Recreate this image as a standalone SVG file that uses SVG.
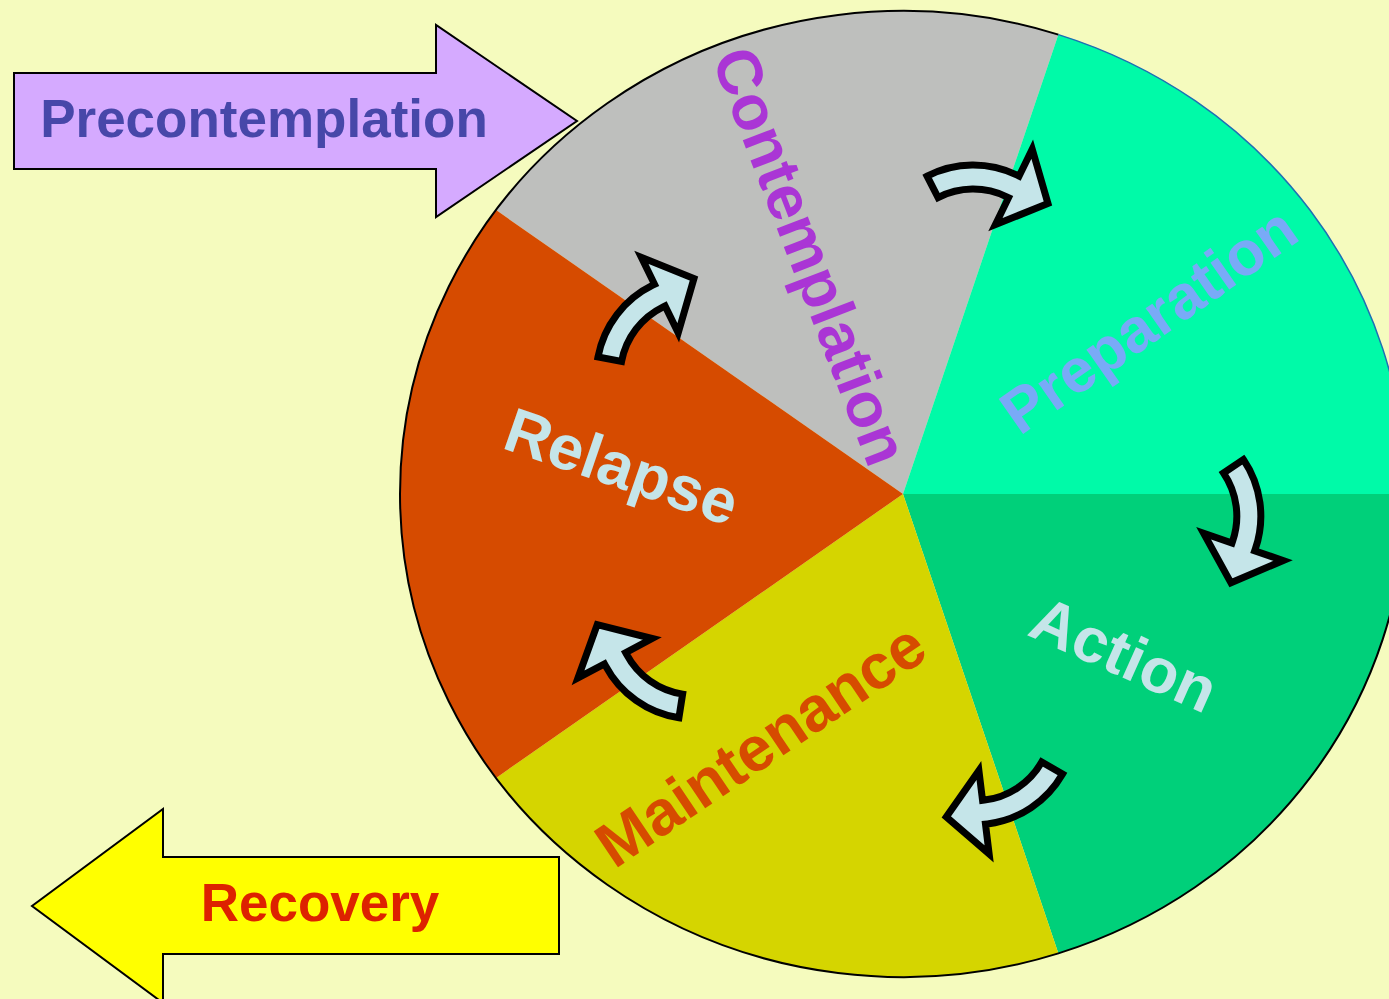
<svg xmlns="http://www.w3.org/2000/svg" xmlns:xlink="http://www.w3.org/1999/xlink" width="1389" height="999" viewBox="0 0 1389 999">
  <style>
    .lbl { font-family: "Liberation Sans", Arial, sans-serif; font-weight: bold; }
    .big { font-size: 53px; text-anchor: middle; }
    .wheel { font-size: 63px; text-anchor: middle; }
    .block { stroke: #000; stroke-width: 2; stroke-linejoin: miter; }
    .curl { fill: #c5e5e9; stroke: #000; stroke-width: 7; stroke-linejoin: miter; stroke-miterlimit: 10; }
  </style>
  <defs>
    <!-- curved stage-to-stage arrow, head pointing along +x, body bending back toward +y -->
    <path id="curl" d="M-80.6,28.4 A100.7,100.7 0 0,1 0,-12 L2,-12 L2,-42 L40,0 L2,42 L2,12 L0,12 A76.7,76.7 0 0,0 -61.4,42.8 Z"/>
  </defs>

  <rect width="1389" height="999" fill="#f5fbbe"/>

  <g id="precontemplation">
    <path class="block" fill="#d5aaff" d="M14,73 H436 V25 L577,121 L436,217 V169 H14 Z"/>
    <text class="lbl big" x="264" y="137" fill="#4747a9">Precontemplation</text>
  </g>

  <g id="recovery">
    <path class="block" fill="#ffff00" d="M559,857 H163 V809 L32,906 L163,1003 V954 H559 Z"/>
    <text class="lbl big" x="320" y="921" fill="#dd2200">Recovery</text>
  </g>

  <!-- wheel: centre (903,494), radii 503 x 483, five 72-degree sectors -->
  <g id="contemplation">
    <path fill="#bebfbd" d="M903,494 L496.1,210.1 A503,483 0 0,1 1058.4,34.6 Z"/>
  </g>
  <g id="preparation">
    <path fill="#00faa8" d="M903,494 L1058.4,34.6 A503,483 0 0,1 1406,494 Z"/>
  </g>
  <g id="action">
    <path fill="#00d07a" d="M903,494 L1406,494 A503,483 0 0,1 1058.4,953.4 Z"/>
  </g>
  <g id="maintenance">
    <path fill="#d5d500" d="M903,494 L1058.4,953.4 A503,483 0 0,1 496.1,777.9 Z"/>
  </g>
  <g id="relapse">
    <path fill="#d64b00" d="M903,494 L496.1,777.9 A503,483 0 0,1 496.1,210.1 Z"/>
  </g>

  <!-- wheel rim -->
  <g id="rim" fill="none">
    <path stroke="#000" stroke-width="2" d="M1406,494 A503,483 0 0,1 1058.4,953.4 A503,483 0 0,1 400,494 A503,483 0 0,1 1058.4,34.6"/>
    <path stroke="#1e6fb4" stroke-width="1.5" d="M1058.4,34.6 A503,483 0 0,1 1406,494"/>
  </g>

  <g id="labels" class="lbl wheel">
    <text transform="translate(808,257) rotate(69)" y="19" fill="#aa35d5">Contemplation</text>
    <text transform="translate(1150,322) rotate(-35)" y="19" fill="#79aaf7" font-size="62">Preparation</text>
    <text transform="translate(1123,657) rotate(24)" y="19" fill="#c5e5e9">Action</text>
    <text transform="translate(762,747) rotate(-34)" y="19" fill="#d64b00">Maintenance</text>
    <text transform="translate(621,469) rotate(19)" y="19" fill="#c5e5e9">Relapse</text>
  </g>

  <g id="connectors">
    <use xlink:href="#curl" class="curl" transform="translate(1012,186) rotate(26)"/>
    <use xlink:href="#curl" class="curl" transform="translate(1244,545) rotate(109)"/>
    <use xlink:href="#curl" class="curl" transform="translate(986,812) rotate(173)"/>
    <use xlink:href="#curl" class="curl" transform="translate(616,660) rotate(242)"/>
    <use xlink:href="#curl" class="curl" transform="translate(658,296) rotate(-26)"/>
  </g>
</svg>
